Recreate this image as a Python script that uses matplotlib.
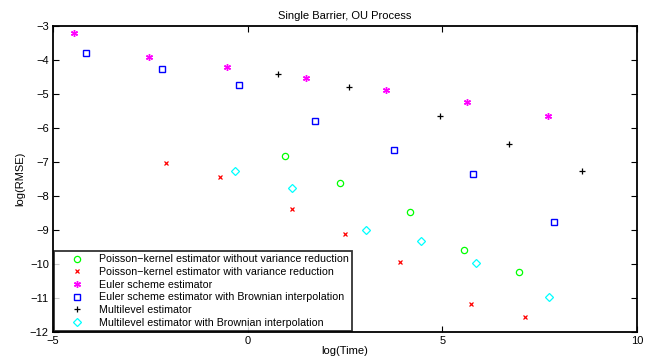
import matplotlib
matplotlib.use("Agg")
import matplotlib.pyplot as plt

plt.rcParams['font.family'] = ['Liberation Sans', 'DejaVu Sans']

# Data (log(Time), log(RMSE))
pk_nov_x = [0.97, 2.36, 4.18, 5.56, 6.97]
pk_nov_y = [-6.82, -7.62, -8.47, -9.59, -10.24]

pk_vr_x = [-2.10, -0.72, 1.13, 2.51, 3.90, 5.74, 7.13]
pk_vr_y = [-7.03, -7.44, -8.38, -9.12, -9.94, -11.18, -11.56]

euler_x = [-4.46, -2.54, -0.54, 1.51, 3.56, 5.64, 7.72]
euler_y = [-3.21, -3.91, -4.21, -4.53, -4.88, -5.24, -5.65]

euler_bi_x = [-4.15, -2.21, -0.23, 1.74, 3.77, 5.79, 7.87]
euler_bi_y = [-3.79, -4.26, -4.74, -5.79, -6.65, -7.35, -8.76]

ml_x = [0.79, 2.59, 4.95, 6.72, 8.59]
ml_y = [-4.41, -4.79, -5.65, -6.47, -7.26]

ml_bi_x = [-0.33, 1.13, 3.05, 4.46, 5.87, 7.74]
ml_bi_y = [-7.26, -7.76, -9.00, -9.32, -9.97, -10.97]

labels = [
    "Poisson\u2212kernel estimator without variance reduction",
    "Poisson\u2212kernel estimator with variance reduction",
    "Euler scheme estimator",
    "Euler scheme estimator with Brownian interpolation",
    "Multilevel estimator",
    "Multilevel estimator with Brownian interpolation",
]
x_ticks = [-5, 0, 5, 10]
y_ticks = [-12, -11, -10, -9, -8, -7, -6, -5, -4, -3]

fig = plt.figure(figsize=(6.59, 3.56), dpi=100)
ax = fig.add_axes([53/659, 1-332/356, (637-53)/659, (332-26)/356])

ms = 4.5
ax.plot(pk_nov_x, pk_nov_y, linestyle='none', marker='o', mfc='none', mec='#00ff00', ms=ms, mew=0.9, label=labels[0])
ax.plot(pk_vr_x, pk_vr_y, linestyle='none', marker='x', color='#ff0000', ms=3.3, mew=0.9, label=labels[1])
ax.plot(euler_x, euler_y, linestyle='none', marker=(6, 2, 0), color='#ff00ff', ms=5, mew=1.0, label=labels[2])
ax.plot(euler_bi_x, euler_bi_y, linestyle='none', marker='s', mfc='none', mec='#0000ff', ms=4, mew=1.0, label=labels[3])
ax.plot(ml_x, ml_y, linestyle='none', marker='+', color='#000000', ms=5, mew=0.9, label=labels[4])
ax.plot(ml_bi_x, ml_bi_y, linestyle='none', marker='D', mfc='none', mec='#00ffff', ms=4, mew=0.9, label=labels[5])

ax.set_xlim(-5, 10)
ax.set_ylim(-12, -3)
ax.set_xticks(x_ticks)
ax.set_yticks(y_ticks)
ax.set_xticklabels([str(t).replace('-', '\u2212') for t in x_ticks])
ax.set_yticklabels([str(t).replace('-', '\u2212') for t in y_ticks])
ax.tick_params(direction='in', top=True, right=True, labelsize=8, length=4, width=0.8, pad=3)
for s in ax.spines.values():
    s.set_linewidth(1.3)

ax.set_title("Single Barrier, OU Process", fontsize=8, pad=5)
ax.set_xlabel("log(Time)", fontsize=8, labelpad=0)
ax.set_ylabel("log(RMSE)", fontsize=8, labelpad=3)

leg = ax.legend(loc='lower left', fontsize=7.65, frameon=True, fancybox=False,
                borderaxespad=0.05, handletextpad=0.1, labelspacing=0.25,
                handlelength=3.8, borderpad=0.35)
leg.get_frame().set_edgecolor('black')
leg.get_frame().set_linewidth(1.3)

fig.savefig("out.png", dpi=100)
